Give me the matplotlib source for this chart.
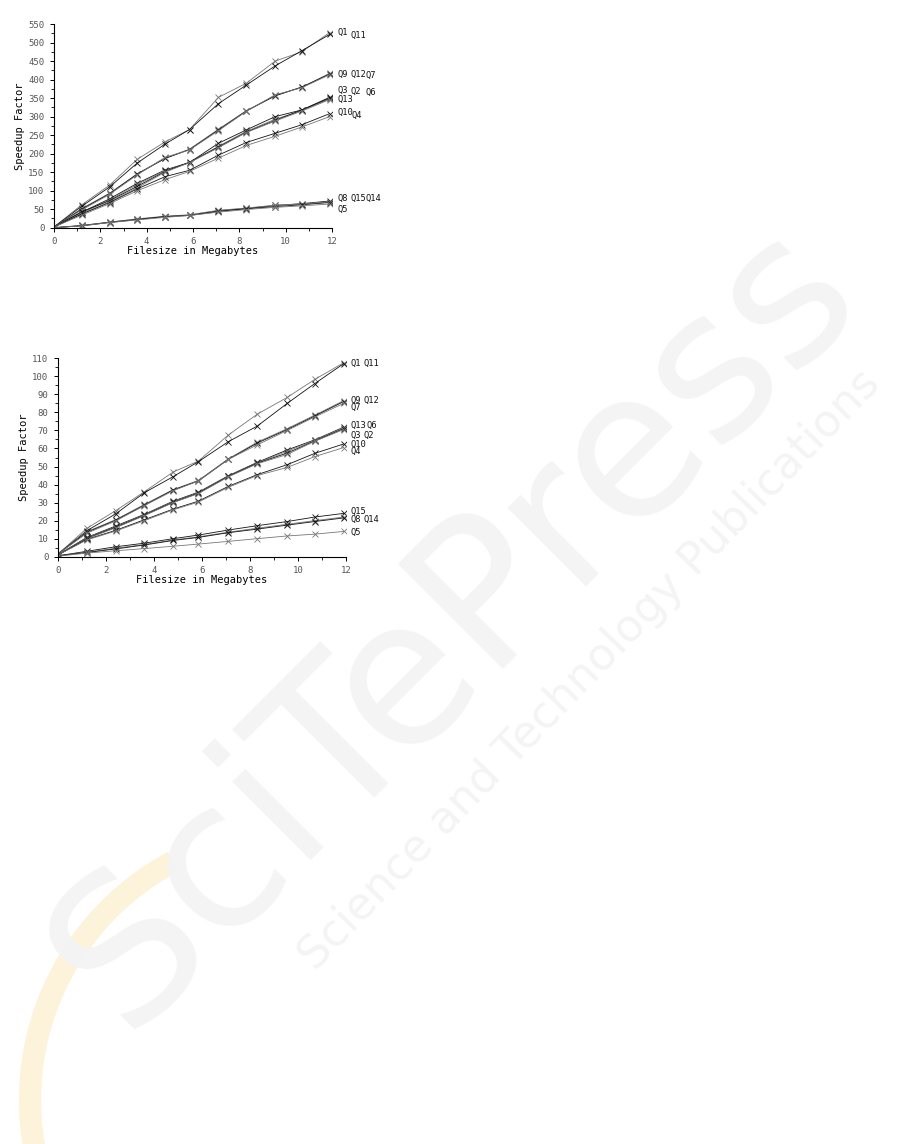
import matplotlib
matplotlib.use("Agg")
import matplotlib.pyplot as plt
from matplotlib.ticker import MultipleLocator
from matplotlib.patches import Arc

# filesize in MB (same for both charts)
filesize = [0, 1.2, 2.4, 3.6, 4.8, 5.85, 7.1, 8.3, 9.55, 10.7, 11.9]

# top chart: speedup factor
top_q1 = [2, 62, 115, 185, 232, 265, 352, 390, 450, 475, 527]
top_q11 = [2, 58, 110, 175, 226, 265, 335, 385, 437, 478, 522]
top_q9 = [2, 52, 93, 146, 188, 212, 266, 316, 357, 379, 417]
top_q12 = [2, 50, 92, 145, 187, 211, 264, 315, 356, 380, 415]
top_q7 = [2, 48, 90, 143, 190, 210, 262, 314, 359, 378, 413]
top_q3 = [2, 42, 78, 120, 156, 176, 228, 264, 300, 318, 352]
top_q2 = [2, 40, 75, 117, 154, 175, 220, 260, 293, 316, 348]
top_q6 = [2, 43, 73, 112, 152, 177, 218, 258, 290, 318, 350]
top_q13 = [2, 38, 70, 108, 150, 176, 216, 257, 288, 315, 346]
top_q10 = [2, 37, 68, 105, 138, 155, 196, 230, 255, 278, 308]
top_q4 = [2, 34, 65, 100, 130, 152, 188, 222, 247, 272, 300]
top_q8 = [0, 6, 15, 23, 30, 34, 46, 52, 60, 65, 72]
top_q15 = [0, 6, 15, 24, 31, 35, 47, 53, 61, 64, 70]
top_q14 = [0, 5, 14, 22, 30, 33, 44, 51, 57, 62, 68]
top_q5 = [0, 5, 14, 21, 28, 33, 42, 49, 55, 59, 64]

# bottom chart: speedup factor
bot_q1 = [1.5, 15.7, 25.5, 36, 47, 53, 67.5, 79, 88.3, 98.3, 107.5]
bot_q11 = [1.5, 14.4, 23.7, 35.5, 44.4, 52.7, 63.8, 72.4, 85, 96, 107]
bot_q9 = [1.5, 13.9, 20.5, 29, 37.2, 42.3, 54.3, 63.5, 71, 78.5, 86.5]
bot_q12 = [1.5, 13.5, 20.2, 28.6, 37, 42, 54, 63, 70.5, 78, 86]
bot_q7 = [1.5, 13, 19.8, 28.3, 36.6, 42, 54, 62, 70, 77.5, 85]
bot_q13 = [1, 10.7, 17, 23.5, 30.8, 35.8, 44.9, 52.3, 59.2, 64.8, 71.8]
bot_q6 = [1, 10.5, 16.6, 23.3, 30.5, 35.5, 44.7, 52, 58.5, 64.5, 71.5]
bot_q3 = [1, 10.2, 16.3, 23, 30.2, 35.2, 44.5, 51.8, 57.5, 64.2, 71]
bot_q2 = [1, 10, 16, 22.8, 30, 35, 44.3, 51.5, 56.7, 64, 70.5]
bot_q10 = [1, 9.6, 14.6, 20.5, 26.4, 30.8, 39, 45.5, 51, 57.3, 62.5]
bot_q4 = [1, 9.3, 14.2, 20, 26, 30.3, 38.5, 45, 49.5, 55.5, 60.5]
bot_q15 = [0.5, 3, 5.5, 7.5, 10, 12, 14.8, 17.2, 19.5, 22, 24]
bot_q8 = [0.5, 2.5, 4.7, 6.8, 9.3, 11, 13.6, 15.8, 18, 20, 22]
bot_q14 = [0.5, 2.3, 4.3, 6.5, 9, 10.7, 13.3, 15.3, 17.5, 19.5, 21.5]
bot_q5 = [0.3, 2, 3.3, 4.5, 5.8, 7, 8.5, 10, 11.5, 12.5, 14]

top_series = [top_q1, top_q11, top_q9, top_q12, top_q7, top_q3, top_q2, top_q6,
              top_q13, top_q10, top_q4, top_q8, top_q15, top_q14, top_q5]
bot_series = [bot_q1, bot_q11, bot_q9, bot_q12, bot_q7, bot_q13, bot_q6, bot_q3,
              bot_q2, bot_q10, bot_q4, bot_q15, bot_q8, bot_q14, bot_q5]

# end labels: (text, x, y) in data coords
top_labels = [("Q1", 12.25, 528), ("Q11", 12.8, 518),
              ("Q9", 12.25, 415), ("Q12", 12.8, 415), ("Q7", 13.45, 410),
              ("Q3", 12.25, 370), ("Q2", 12.8, 368), ("Q6", 13.45, 366),
              ("Q13", 12.25, 346),
              ("Q10", 12.25, 312), ("Q4", 12.85, 304),
              ("Q8", 12.25, 80), ("Q15", 12.8, 78), ("Q14", 13.45, 78),
              ("Q5", 12.25, 48)]
bot_labels = [("Q1", 12.2, 107), ("Q11", 12.75, 107),
              ("Q9", 12.2, 86.5), ("Q12", 12.75, 86.5), ("Q7", 12.2, 82.5),
              ("Q13", 12.2, 72.5), ("Q6", 12.85, 72.5),
              ("Q3", 12.2, 67), ("Q2", 12.75, 67),
              ("Q10", 12.2, 62.5), ("Q4", 12.2, 58.5),
              ("Q15", 12.2, 25), ("Q8", 12.2, 20.5), ("Q14", 12.75, 20.5),
              ("Q5", 12.2, 13.5)]

colors = ["#777777", "#111111"]
mono = "DejaVu Sans Mono"

fig = plt.figure(figsize=(9.14, 11.44), dpi=100)
fig.patch.set_facecolor("white")

# faint publisher watermark
bg = fig.add_axes([0, 0, 1, 1], zorder=-1)
bg.set_xlim(0, 914)
bg.set_ylim(1144, 0)
bg.axis("off")
bg.add_patch(Arc((300, 1100), 540, 540, theta1=160, theta2=242,
                 color="#fdf2da", lw=16))
bg.text(455, 625, "SciTePress", rotation=45, fontsize=146, color="#f4f4f4",
        ha="center", va="center", family="DejaVu Sans")
bg.text(590, 670, "Science and Technology Publications", rotation=46,
        fontsize=32, color="#f4f4f4", ha="center", va="center",
        family="DejaVu Sans")


def draw(rect, series, labels, ymax, ymajor, yminor):
    ax = fig.add_axes(rect)
    for i, s in enumerate(series):
        ax.plot(filesize, s, color=colors[i % 2], lw=0.6, marker="x",
                markersize=4.5, markeredgewidth=0.6)
    for txt, lx, ly in labels:
        ax.text(lx, ly, txt, fontsize=6.3, family=mono, va="center",
                ha="left", color="#111111", clip_on=False)
    ax.set_xlim(0, 12)
    ax.set_ylim(0, ymax)
    ax.xaxis.set_major_locator(MultipleLocator(2))
    ax.xaxis.set_minor_locator(MultipleLocator(1))
    ax.yaxis.set_major_locator(MultipleLocator(ymajor))
    ax.yaxis.set_minor_locator(MultipleLocator(yminor))
    ax.spines["top"].set_visible(False)
    ax.spines["right"].set_visible(False)
    for sp in ("left", "bottom"):
        ax.spines[sp].set_linewidth(0.8)
    ax.tick_params(which="major", length=3, width=0.7, labelsize=6.5,
                   labelcolor="#555555", pad=4)
    ax.tick_params(which="minor", length=2, width=0.6)
    for lab in ax.get_xticklabels() + ax.get_yticklabels():
        lab.set_family(mono)
    ax.set_xlabel("Filesize in Megabytes", fontsize=7.5, family=mono, labelpad=0)
    ax.set_ylabel("Speedup Factor", fontsize=7.5, family=mono, labelpad=2)
    ax.patch.set_alpha(0)
    return ax


draw([54 / 914, 1 - 227.7 / 1144, 278 / 914, 203.7 / 1144],
     top_series, top_labels, 550, 50, 25)
draw([58 / 914, 1 - 556.7 / 1144, 288 / 914, 198.4 / 1144],
     bot_series, bot_labels, 110, 10, 5)

fig.savefig("out.png", dpi=100)
